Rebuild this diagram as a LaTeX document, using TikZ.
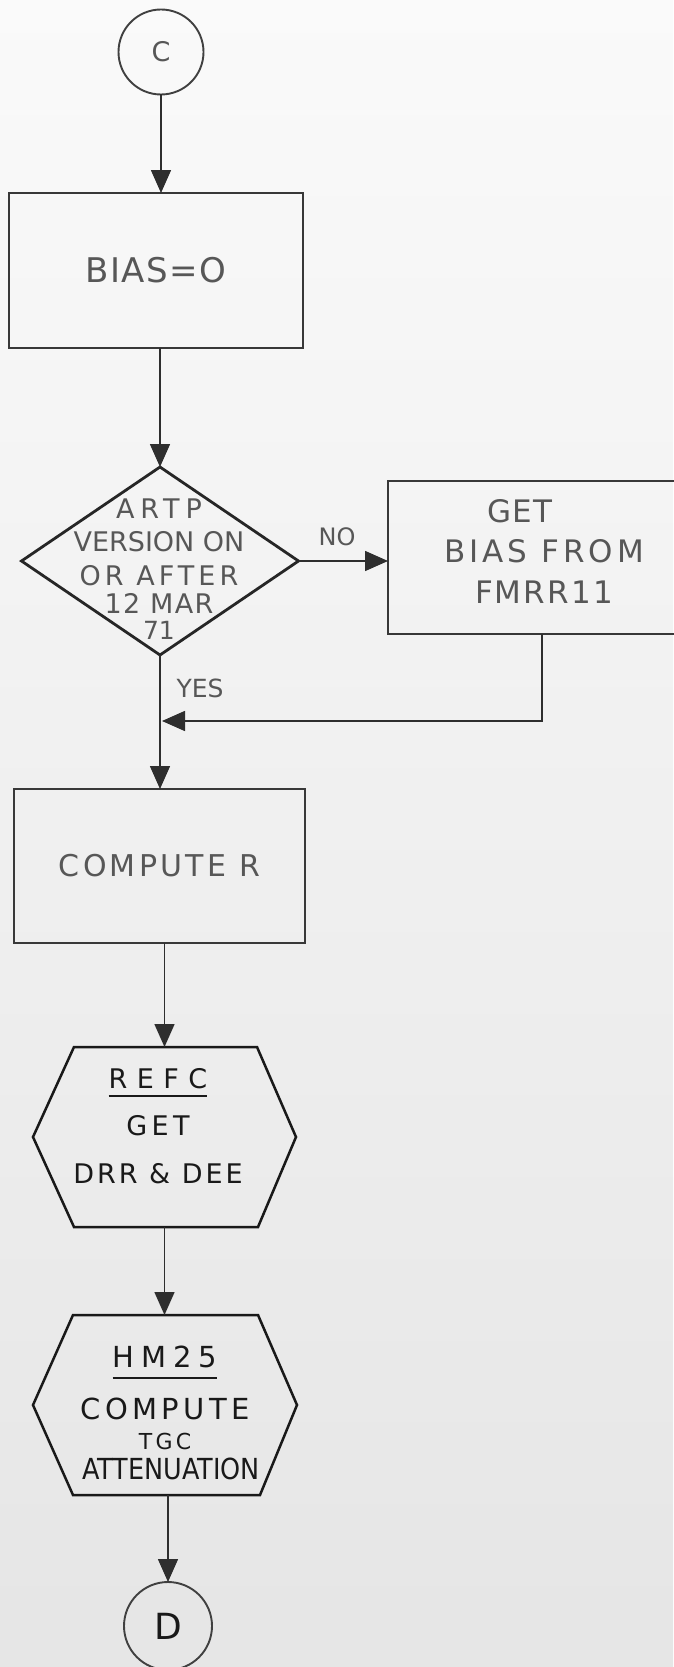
\documentclass[tikz,border=0pt]{standalone}
\usepackage{fontspec}
\setmainfont{DejaVu Sans}
\usetikzlibrary{arrows.meta}
% tracked (letter-spaced) text
\newcommand\trk[2]{{\addfontfeature{LetterSpace=#1}#2}}
% underline with a given drop below the baseline
\newcommand\ulin[2]{\setbox0=\hbox{#2}\rlap{\rule[#1]{\wd0}{2.2pt}}\box0}
\begin{document}
\begin{tikzpicture}[x=1pt,y=-1pt,
  every node/.style={inner sep=0pt,outer sep=0pt},
  lbox/.style={draw=black!78,line width=2pt},
  dline/.style={draw=black!85,line width=2.8pt,line join=miter},
  hline/.style={draw=black!90,line width=2.5pt,line join=miter},
  conn/.style={draw=black!82,line width=1.6pt},
  arr/.style={conn,-{Triangle[width=20pt,length=23pt]}},
  stencil/.style={text=black!66},
  hand/.style={text=black!90},
  ring/.style={circle,draw=black!75,line width=1.9pt}]

\useasboundingbox (0,0) rectangle (673,1667);
\shade[top color=white!98!black,bottom color=black!10] (0,0) rectangle (673,1667);

% entry connector
\node[ring,stencil,minimum size=85pt,font=\fontsize{27}{27}\selectfont] (C) at (161,52) {C};

% initialisation
\node[lbox,stencil,minimum width=294pt,minimum height=155pt,font=\fontsize{34}{34}\selectfont]
  (B) at (156,270.5) {\trk{4}{BIAS=O}};

% version test
\node[minimum width=277pt,minimum height=188pt] (dec) at (160,561) {};
\draw[dline] (dec.north) -- (dec.east) -- (dec.south) -- (dec.west) -- cycle;
\node[stencil,align=center,font=\fontsize{27}{33}\selectfont] (dect) at (159,569)
  {\trk{22}{ARTP}\\ VERSION ON\\[1pt] \trk{15}{OR AFTER}\\[-5pt] \trk{5}{12 MAR}\\[-7pt]
   {\fontsize{25}{33}\selectfont 71}};

% old-version branch
\node[lbox,minimum width=302pt,minimum height=153pt,anchor=north west] (G) at (388,481) {};
\node[stencil,align=center,font=\fontsize{31}{40.5}\selectfont] (Gt) at (544,551)
  {\trk{5}{GET}\hspace*{48pt}\\ \trk{13}{BIAS FROM}\\ \trk{7}{FMRR11}};

\node[stencil,font=\fontsize{24}{24}\selectfont] (no) at (337,537) {NO};
\node[stencil,font=\fontsize{25}{25}\selectfont] (yes) at (200,688) {YES};

% range computation
\node[lbox,stencil,minimum width=291pt,minimum height=154pt,font=\fontsize{30}{30}\selectfont]
  (CR) at (159.5,866) {\trk{11}{COMPUTE R}};

% subroutine REFC
\node[minimum width=263pt,minimum height=180pt] (H1) at (164.5,1137) {};
\draw[hline] ([xshift=41pt]H1.north west) -- ([xshift=-39pt]H1.north east) -- (H1.east)
  -- ([xshift=-38pt]H1.south east) -- ([xshift=41pt]H1.south west) -- (H1.west) -- cycle;
\node[hand,align=center,font=\fontsize{27}{47.5}\selectfont] (H1t) at (158,1126)
  {\ulin{-9pt}{\trk{35}{REFC}}\\ \trk{16}{GET}\hspace*{12pt}\\ \trk{11}{DRR \& DEE}};

% subroutine HM25
\node[minimum width=264pt,minimum height=180pt] (H2) at (165,1405) {};
\draw[hline] ([xshift=40pt]H2.north west) -- ([xshift=-39pt]H2.north east) -- (H2.east)
  -- ([xshift=-37pt]H2.south east) -- ([xshift=40pt]H2.south west) -- (H2.west) -- cycle;
\node[hand,align=center,font=\fontsize{29}{30}\selectfont] (H2t) at (165,1413)
  {\ulin{-12pt}{\trk{24}{HM25}}\\[18pt] \trk{15}{COMPUTE}\\
   {\fontsize{22}{30}\selectfont\trk{15}{TGC}}\hspace*{34pt}\\
   \hspace*{12pt}{\addfontfeature{FakeStretch=0.88}ATTENUATION}};

% exit connector
\node[ring,hand,minimum size=88pt,font=\fontsize{36}{36}\selectfont] (Dn) at (168,1626) {D};

% flow lines
\coordinate (join) at (162,721);
\draw[arr] (C.south) -- (C.south |- B.north);
\draw[arr] (B.south -| dec.north) -- (dec.north);
\draw[arr] (dec.east) -- (dec.east -| G.west);
\draw[arr] ([xshift=3pt]G.south) |- (join);
\draw[arr] (dec.south) -- (dec.south |- CR.north);
\draw[arr] (CR.south -| H1.north) -- (H1.north);
\draw[arr] (H1.south) -- (H1.south |- H2.north);
\draw[arr] (H2.south -| Dn.north) -- (Dn.north);
\end{tikzpicture}
\end{document}
